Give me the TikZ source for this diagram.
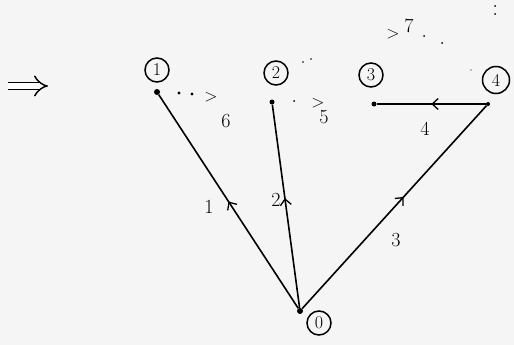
\documentclass[tikz,border=0pt]{standalone}
\usetikzlibrary{arrows.meta,decorations.markings}
\begin{document}
\begin{tikzpicture}[x=1pt,y=-1pt,
  vdot/.style={circle,fill=black,inner sep=0pt,minimum size=6pt},
  vlab/.style={circle,draw,line width=1.5pt,inner sep=0pt,minimum size=24pt,font=\fontsize{18}{20}\selectfont},
  elab/.style={font=\fontsize{20}{22}\selectfont,inner sep=0pt},
  glab/.style={font=\fontsize{18}{20}\selectfont,inner sep=0pt},
  edge/.style={line width=1.6pt,decoration={markings,mark=at position #1 with {\arrow{Straight Barb[length=6pt,width=11pt,line width=1.3pt]}}},postaction={decorate}},
  edge/.default=0.5]
\fill[white!96!black] (0,0) rectangle (514,345);
\useasboundingbox (0,0) rectangle (514,345);
% vertices
\node[vdot] (v0) at (300,311) {};
\node[vdot] (v1) at (157,92) {};
\node[vdot,minimum size=5pt] (v2) at (272,102) {};
\node[vdot,minimum size=5pt] (v3) at (374,104) {};
\node[vdot,minimum size=4pt] (v4) at (488,104) {};
% vertex labels
\node[vlab] (l0) at (319,323) {0};
\node[vlab] (l1) at (157,70) {1};
\node[vlab] (l2) at (276,73) {2};
\node[vlab] (l3) at (371,75) {3};
\node[vlab,minimum size=27pt] (l4) at (496,80) {4};
% tree edges
\draw[edge=0.5] (v0) -- (v1);
\draw[edge=0.54] (v0) -- (v2);
\draw[edge=0.55] (v0) -- (v4);
\draw[edge=0.5,line width=2pt] (v4) -- (v3);
% edge labels
\node[elab] (e1) at (209,207) {1};
\node[elab] (e2) at (276,200) {2};
\node[elab] (e3) at (396,240) {3};
\node[elab] (e4) at (425,129) {4};
% dotted edges and their marks
\fill (179,93) circle (1.6pt);
\fill (192,94) circle (1.6pt);
\node[glab] (g6) at (211,97) {$>$};
\node[elab] (t6) at (226,121) {6};
\fill (294,101) circle (1pt);
\node[glab] (g5) at (318,103) {$>$};
\node[elab] (t5) at (324,117) {5};
\node[glab] (g7) at (393,34) {$>$};
\node[elab] (t7) at (409,26) {7};
\fill (303,62) circle (0.9pt);
\fill (311,59) circle (0.9pt);
\fill (424,36) circle (1pt);
\fill (442,43) circle (1pt);
\fill (471,70) circle (0.7pt);
\fill (495,6) circle (1pt);
\fill (495,14) circle (1pt);
% implies arrow
\coordinate (ia) at (8,86);
\coordinate (ib) at (48,86);
\draw[line width=1.4pt,double,double distance=6pt,-{Implies}] (ia) -- (ib);
\end{tikzpicture}
\end{document}
